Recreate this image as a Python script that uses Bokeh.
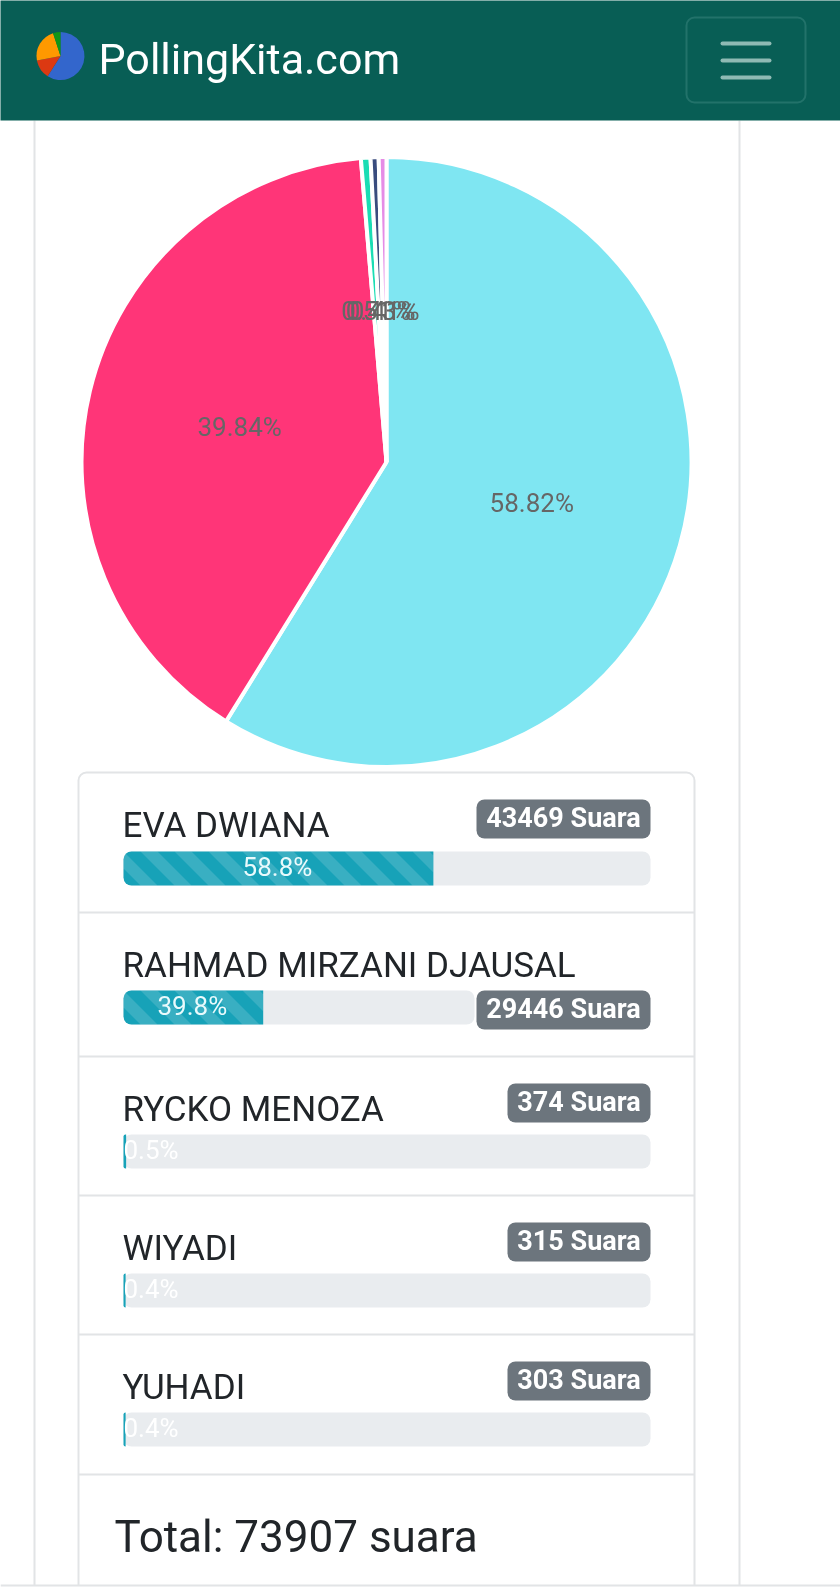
import numpy as np
from bokeh.plotting import figure
from bokeh.embed import file_html
from bokeh.resources import INLINE
from bokeh.models import Range1d
from bokeh.core.properties import value

# ---------- data ----------
candidates = ["EVA DWIANA", "RAHMAD MIRZANI DJAUSAL", "RYCKO MENOZA", "WIYADI", "YUHADI"]
votes = [43469, 29446, 374, 315, 303]
pie_labels = ["58.82%", "39.84%", "0.51%", "0.43%", "0.41%"]
bar_labels = ["58.8%", "39.8%", "0.5%", "0.4%", "0.4%"]
bar_shares = [58.8, 39.8, 0.5, 0.4, 0.4]
badge_labels = ["43469 Suara", "29446 Suara", "374 Suara", "315 Suara", "303 Suara"]
pie_colors = ["#7FE6F2", "#FF3578", "#1ADDB4", "#3A4C7E", "#E58CE6"]
total_label = "Total: 73907 suara"
brand = "PollingKita.com"
logo_values = [59, 13, 23, 5]
logo_colors = ["#3366CC", "#DC3912", "#FF9900", "#109618"]

W, H = 840, 1592
FONT = value("Roboto")
LINE = "#E2E4E6"

p = figure(width=W, height=H, output_backend="svg", toolbar_location=None,
           x_range=Range1d(0, W), y_range=Range1d(H, 0), min_border=0,
           x_axis_type=None, y_axis_type=None, background_fill_color="white",
           border_fill_color="white", outline_line_color=None,
           styles={"position": "fixed", "left": "0px", "top": "0px"})
p.grid.visible = False


def label(x, y, text, size, color, align="left", bold=False):
    # y is the wanted baseline; bokeh's alphabetic anchor sits about 0.39 em above it
    p.text(x=[x], y=[y], text=[text], text_font=FONT, text_font_size=f"{size}px",
           text_color=color, text_align=align, text_baseline="alphabetic",
           text_font_style="bold" if bold else "normal", y_offset=-0.39 * size)


def pie(cx, cy, r, values, colors, line_color=None, line_width=0):
    v = np.asarray(values, dtype=float)
    edges = np.concatenate([[0], np.cumsum(v)]) / v.sum() * 2 * np.pi
    p.wedge(x=[cx] * len(v), y=[cy] * len(v), radius=r,
            start_angle=np.pi / 2 - edges[:-1], end_angle=np.pi / 2 - edges[1:],
            direction="clock", fill_color=colors, line_color=line_color,
            line_width=line_width)
    return (edges[:-1] + edges[1:]) / 2


# card outlines
p.segment(x0=[34, 739], y0=[120, 120], x1=[34, 739], y1=[1585, 1585], line_color=LINE, line_width=2)

# header
p.quad(left=[-5], right=[W + 5], top=[-5], bottom=[120], fill_color="#085E55", line_color=None)
pie(60, 55.5, 24, logo_values, logo_colors)
label(98, 75, brand, 43, "white")
p.quad(left=[686], right=[805], top=[17], bottom=[102], fill_color=None,
       line_color="#22726A", line_width=2, border_radius=8)
p.segment(x0=[722] * 3, x1=[769] * 3, y0=[43, 60, 77], y1=[43, 60, 77],
          line_color="#8FBAB4", line_width=4, line_cap="round")

# main pie
CX, CY, R = 386, 461.5, 305
mids = pie(CX, CY, R, votes, pie_colors, line_color="white", line_width=4)
p.text(x=CX + 151 * np.sin(mids), y=CY - 151 * np.cos(mids), text=pie_labels,
       text_font=FONT, text_font_size="26px", text_color="#666666",
       text_align="center", text_baseline="middle", y_offset=0)

# list
seps = [912, 1056, 1195, 1334, 1474]
row_tops = [772] + seps[:-1]
p.quad(left=[78], right=[694], top=[772], bottom=[1700], fill_color=None,
       line_color=LINE, line_width=2, border_radius=8)
p.segment(x0=[78] * 5, x1=[694] * 5, y0=seps, y1=seps, line_color=LINE, line_width=2)

BAR_L, BAR_R = 123, 650
badge_l = [476, 476, 507, 507, 507]
badge_off = [27, 78, 27, 27, 27]
bar_off = [79, 78, 78, 78, 78]
name_off = [67, 67, 67, 67, 67]

for i, top in enumerate(row_tops):
    by = top + badge_off[i]
    bt = top + bar_off[i]
    track_r = BAR_R if i != 1 else 474
    fill_r = BAR_L + (track_r - BAR_L) * bar_shares[i] / 100
    rad = int(min(8, fill_r - BAR_L))
    label(BAR_L - 1, top + name_off[i], candidates[i], 35, "#212529")
    p.quad(left=[BAR_L], right=[track_r], top=[bt], bottom=[bt + 34],
           fill_color="#E9ECEF", line_color=None, border_radius=8)
    p.quad(left=[BAR_L], right=[fill_r], top=[bt], bottom=[bt + 34],
           fill_color="#17A2B8", line_color=None,
           border_radius=(rad, 0, 0, rad))
    # bootstrap-like diagonal stripes, clipped to the filled part
    xs_all, ys_all = [], []
    for s in np.arange(BAR_L - 68, fill_r, 34):
        poly = [(s + 17, bt), (s + 34, bt), (s + 68, bt + 34), (s + 51, bt + 34)]
        for sign, lim in ((1, BAR_L), (-1, fill_r)):
            out = []
            for k in range(len(poly)):
                a, b = poly[k], poly[(k + 1) % len(poly)]
                ia, ib = sign * (a[0] - lim) >= 0, sign * (b[0] - lim) >= 0
                if ia:
                    out.append(a)
                if ia != ib:
                    t = (lim - a[0]) / (b[0] - a[0])
                    out.append((lim, a[1] + t * (b[1] - a[1])))
            poly = out
            if not poly:
                break
        if len(poly) >= 3:
            xs_all.append([q[0] for q in poly])
            ys_all.append([q[1] for q in poly])
    if xs_all and bar_shares[i] > 5:
        p.patches(xs=xs_all, ys=ys_all, fill_color="white", fill_alpha=0.15, line_color=None)
    if bar_shares[i] > 5:
        label((BAR_L + fill_r) / 2 - 1, bt + 26, bar_labels[i], 26, "#E9FAFC", align="center")
    else:
        label(BAR_L, bt + 26, bar_labels[i], 26, "white")
    p.quad(left=[badge_l[i]], right=[BAR_R], top=[by], bottom=[by + 39],
           fill_color="#6C757D", line_color=None, border_radius=8)
    label((badge_l[i] + BAR_R) / 2, by + 29, badge_labels[i], 27, "white", align="center", bold=True)

label(114, 1554, total_label, 44, "#212529")

# page foot: white below the closing rule
p.quad(left=[-5], right=[W + 5], top=[1585], bottom=[H + 5], fill_color="white", line_color=None)
p.segment(x0=[0], y0=[1585], x1=[W], y1=[1585], line_color=LINE, line_width=2)

open("out.html", "w").write(file_html(p, INLINE))
